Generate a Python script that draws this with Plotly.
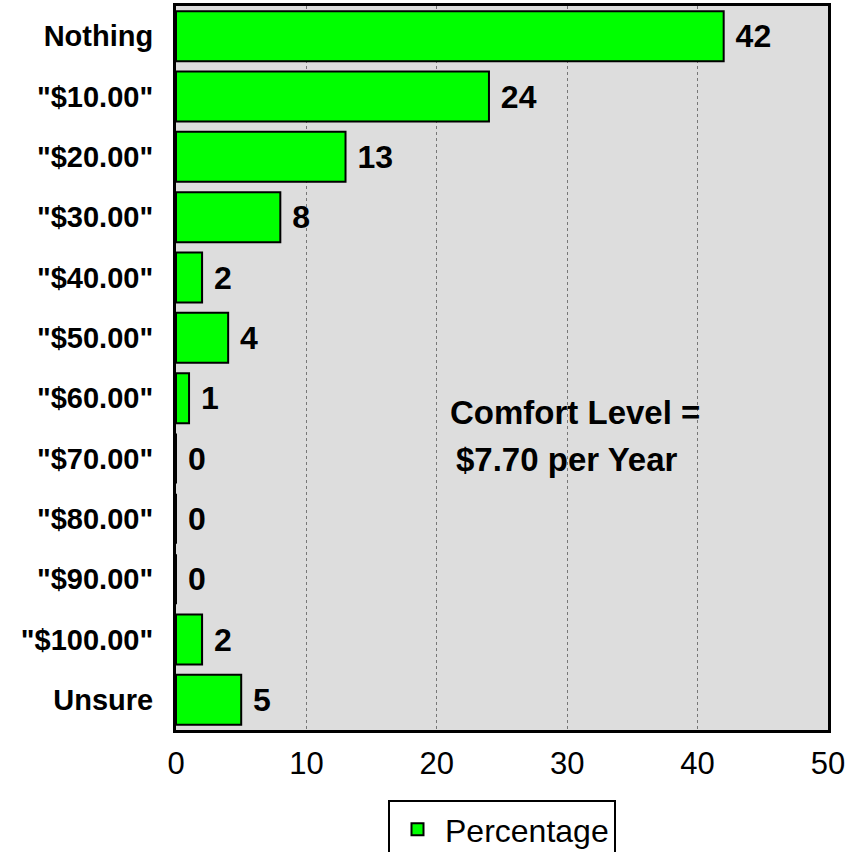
import plotly.graph_objects as go

categories = ["Nothing", '"$10.00"', '"$20.00"', '"$30.00"', '"$40.00"', '"$50.00"',
              '"$60.00"', '"$70.00"', '"$80.00"', '"$90.00"', '"$100.00"', "Unsure"]
values = [42, 24, 13, 8, 2, 4, 1, 0, 0, 0, 2, 5]
x_ticks = [0, 10, 20, 30, 40, 50]
note_lines = ["Comfort Level =", "$7.70 per Year"]

FONT = "Liberation Sans, Arial, sans-serif"

fig = go.Figure()
fig.add_trace(go.Bar(
    y=categories, x=values, orientation="h", name="Percentage",
    marker=dict(color="#00FF00", line=dict(color="black", width=2)),
    text=[" " + str(v) for v in values], textposition="outside",
    textfont=dict(family=FONT, size=32, color="black", weight="bold"),
    cliponaxis=False,
))

fig.add_annotation(x=30.6, y=6.23, xref="x", yref="y", text="<b>" + note_lines[0] + "</b>",
                   showarrow=False, font=dict(family=FONT, size=33, color="black"))
fig.add_annotation(x=30.0, y=7.02, xref="x", yref="y", text="<b>" + note_lines[1] + "</b>",
                   showarrow=False, font=dict(family=FONT, size=33, color="black"))

fig.update_layout(
    width=859, height=852,
    margin=dict(l=176, r=31, t=6, b=122, autoexpand=False),
    paper_bgcolor="white", plot_bgcolor="#DDDDDD",
    bargap=0.17,
    showlegend=True,
    legend=dict(x=0.5, xanchor="center", y=-0.0967, yanchor="top",
                orientation="h", bordercolor="black", borderwidth=2,
                font=dict(family=FONT, size=32, color="black"),
                itemwidth=45, bgcolor="white"),
    font=dict(family=FONT, color="black"),
)
fig.update_xaxes(range=[0, 50], tickvals=x_ticks, showgrid=True,
                 gridcolor="#777777", griddash="dot", gridwidth=1,
                 showline=True, linecolor="black", linewidth=3, mirror=True,
                 zeroline=False, tickfont=dict(family=FONT, size=31, color="black"),
                 ticks="", ticklen=0, ticklabelstandoff=4, automargin=False)
fig.update_yaxes(categoryorder="array", categoryarray=categories, autorange="reversed",
                 showline=True, linecolor="black", linewidth=3, mirror=True,
                 tickfont=dict(family=FONT, size=29, color="black", weight="bold"),
                 ticks="", ticklabelstandoff=14, automargin=False)

fig.write_html("out.html", config={"displayModeBar": False},
               post_script="document.body.style.margin='0';")
